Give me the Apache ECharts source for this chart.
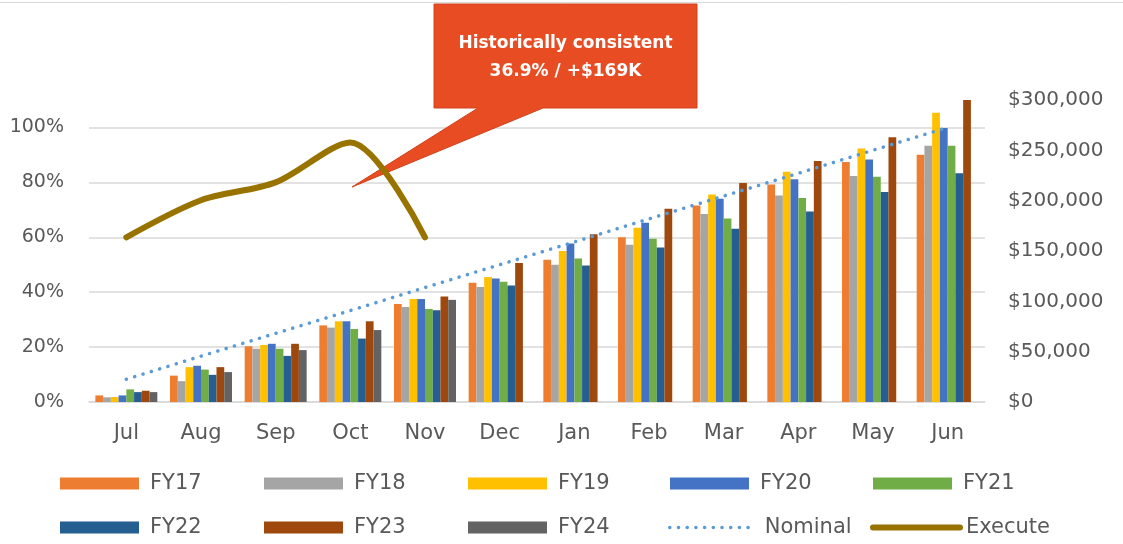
<!DOCTYPE html>
<html>
<head>
<meta charset="utf-8">
<script src="https://cdn.jsdelivr.net/npm/echarts@6/dist/echarts.min.js"></script>
<style>
  html, body { margin: 0; padding: 0; background: #ffffff; }
  #chart { width: 1123px; height: 544px; }
</style>
</head>
<body>
<div id="chart"></div>
<script>
// ---- Data ----
const months = ['Jul','Aug','Sep','Oct','Nov','Dec','Jan','Feb','Mar','Apr','May','Jun'];
const FY17 = [0.024, 0.096, 0.203, 0.279, 0.357, 0.434, 0.518, 0.600, 0.716, 0.792, 0.874, 0.901];
const FY18 = [0.017, 0.076, 0.194, 0.271, 0.346, 0.419, 0.500, 0.573, 0.685, 0.752, 0.823, 0.933];
const FY19 = [0.018, 0.127, 0.208, 0.294, 0.375, 0.455, 0.550, 0.635, 0.756, 0.839, 0.923, 1.054];
const FY20 = [0.024, 0.132, 0.212, 0.294, 0.375, 0.450, 0.577, 0.653, 0.740, 0.811, 0.883, 0.998];
const FY21 = [0.046, 0.118, 0.194, 0.266, 0.339, 0.438, 0.523, 0.595, 0.668, 0.743, 0.820, 0.933];
const FY22 = [0.036, 0.099, 0.168, 0.231, 0.334, 0.424, 0.497, 0.563, 0.631, 0.694, 0.765, 0.833];
const FY23 = [0.041, 0.127, 0.212, 0.294, 0.384, 0.506, 0.611, 0.704, 0.798, 0.878, 0.964, 1.100];
const FY24 = [0.036, 0.109, 0.189, 0.262, 0.372, null, null, null, null, null, null, null];
const nominal = [0.083, 0.167, 0.250, 0.333, 0.417, 0.500, 0.583, 0.667, 0.750, 0.833, 0.917, 1.000];
const execute = [0.60, 0.735, 0.80, 0.945, 0.60, null, null, null, null, null, null, null];
const leftTicks = {min: 0, max: 1.1, interval: 0.2};
const rightTicks = {min: 0, max: 300000, interval: 50000};
const calloutText = ['Historically consistent', '36.9% / +$169K'];

// ---- Styling ----
const FONT = 'DejaVu Sans';
const TXT = '#595959';
const barSeries = [
  {name: 'FY17', data: FY17, color: '#ED7D31'},
  {name: 'FY18', data: FY18, color: '#A5A5A5'},
  {name: 'FY19', data: FY19, color: '#FFC000'},
  {name: 'FY20', data: FY20, color: '#4472C4'},
  {name: 'FY21', data: FY21, color: '#70AD47'},
  {name: 'FY22', data: FY22, color: '#255E91'},
  {name: 'FY23', data: FY23, color: '#9E480E'},
  {name: 'FY24', data: FY24, color: '#636363'}
];
const nominalStyle = {color: '#5B9BD5', width: 3.5, type: [0.1, 8.6], cap: 'round'};
const executeStyle = {color: '#997300', width: 6, cap: 'round', join: 'round'};

const series = barSeries.map(s => ({
  name: s.name, type: 'bar', data: s.data, yAxisIndex: 0,
  barGap: '0%', barCategoryGap: '17%',
  itemStyle: {color: s.color},
  z: 2
}));
series.push({
  name: 'Nominal', type: 'line', data: nominal, yAxisIndex: 0,
  symbol: 'none', showSymbol: false,
  lineStyle: nominalStyle,
  itemStyle: {color: '#5B9BD5'},
  z: 4
});
series.push({
  name: 'Execute', type: 'line', data: execute, yAxisIndex: 0,
  symbol: 'none', showSymbol: false, smooth: 0.3,
  lineStyle: executeStyle,
  itemStyle: {color: '#997300'},
  z: 5
});

// legend placement (one legend per item)
const legendItems = [
  ['FY17', 60, 473, 79, 6, 'rect'], ['FY18', 264, 473, 79, 6, 'rect'], ['FY19', 468, 473, 79, 6, 'rect'],
  ['FY20', 670, 473, 79, 6, 'rect'], ['FY21', 873, 473, 79, 6, 'rect'],
  ['FY22', 60, 517, 79, 6, 'rect'], ['FY23', 264, 517, 79, 6, 'rect'], ['FY24', 468, 517, 79, 6, 'rect'],
  ['Nominal', 668, 517, 79, 11, null], ['Execute', 870, 517, 87, 1, null]
];
const legends = legendItems.map(([name, left, top, w, pad, icon]) => {
  const l = {
    data: [name], left: left, top: top, padding: 0,
    itemWidth: w, itemHeight: 12, selectedMode: false,
    textStyle: {fontFamily: FONT, fontSize: 21, color: TXT, padding: [0, 0, 0, pad]}
  };
  if (icon) l.icon = icon;
  if (name === 'Nominal') { l.lineStyle = nominalStyle; l.itemStyle = {opacity: 0}; }
  if (name === 'Execute') { l.lineStyle = executeStyle; l.itemStyle = {opacity: 0}; }
  return l;
});

const chart = echarts.init(document.getElementById('chart'), null, {renderer: 'canvas'});
chart.setOption({
  backgroundColor: '#ffffff',
  animation: false,
  textStyle: {fontFamily: FONT},
  grid: {left: 89, right: 138, top: 100, bottom: 142, containLabel: false},
  legend: legends,
  xAxis: {
    type: 'category', data: months,
    axisTick: {show: false},
    axisLine: {lineStyle: {color: '#d9d9d9', width: 1.5}},
    axisLabel: {color: TXT, fontSize: 21, fontFamily: FONT, margin: 21}
  },
  yAxis: [
    {
      type: 'value', min: leftTicks.min, max: leftTicks.max, interval: leftTicks.interval,
      axisLine: {show: false}, axisTick: {show: false},
      axisLabel: {color: TXT, fontSize: 19, fontFamily: FONT, margin: 25, showMaxLabel: false,
        formatter: v => Math.round(v * 100) + '%'},
      splitLine: {show: true, showMaxLine: false, lineStyle: {color: '#d9d9d9', width: 1.5}}
    },
    {
      type: 'value', min: rightTicks.min, max: rightTicks.max, interval: rightTicks.interval,
      position: 'right',
      axisLine: {show: false}, axisTick: {show: false},
      axisLabel: {color: TXT, fontSize: 20, fontFamily: FONT, margin: 23,
        formatter: v => '$' + Math.round(v).toLocaleString('en-US')},
      splitLine: {show: false}
    }
  ],
  series: series,
  graphic: [
    {type: 'line', z: 0, shape: {x1: 0, y1: 2.5, x2: 1123, y2: 2.5}, style: {stroke: '#d9d9d9', lineWidth: 1}},
    {type: 'polygon', z: 1,
      shape: {points: [[434, 4], [697, 4], [697, 108], [543, 108], [352, 187], [478, 108], [434, 108]]},
      style: {fill: '#E84C22', stroke: '#D0431C', lineWidth: 1}},
    {type: 'text', z: 6,
      style: {text: calloutText.join('\n'), x: 565.5, y: 58, align: 'center', verticalAlign: 'middle',
        fill: '#ffffff', font: 'bold 17px "DejaVu Sans"', lineHeight: 28}}
  ]
});
</script>
</body>
</html>
